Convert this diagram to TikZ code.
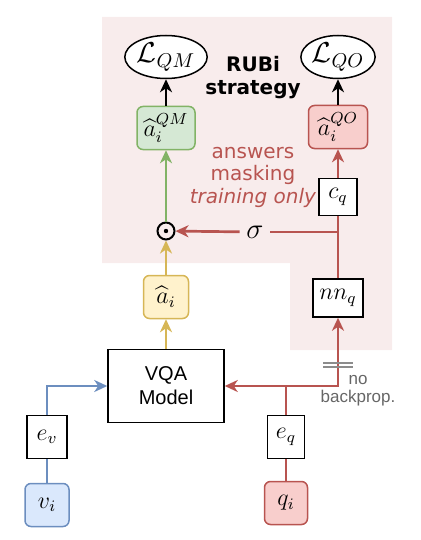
\documentclass[tikz,border=0pt]{standalone}
\usepackage{fontspec}
\usepackage{amsmath}
\usetikzlibrary{arrows.meta,shapes.geometric}

\newfontfamily\dejavu{DejaVu Sans}
\newfontfamily\arial{Liberation Sans}

\definecolor{rubipink}{HTML}{F8ECEC}
\definecolor{qred}{HTML}{B85450}
\definecolor{qredfill}{HTML}{F8CECC}
\definecolor{vblue}{HTML}{6C8EBF}
\definecolor{vbluefill}{HTML}{DAE8FC}
\definecolor{ayellow}{HTML}{D6B656}
\definecolor{ayellowfill}{HTML}{FFF2CC}
\definecolor{qmgreen}{HTML}{82B366}
\definecolor{qmgreenfill}{HTML}{D5E8D4}

\tikzset{
  plainbox/.style={draw=black, fill=white, line width=0.75pt, inner sep=0pt, minimum height=21.5pt, font=\large},
  roundbox/.style={draw=#1, fill=#1fill, line width=0.75pt, rounded corners=3pt, inner sep=0pt, minimum height=21.5pt, font=\large},
  lossnode/.style={ellipse, draw=black, fill=white, line width=0.75pt, inner sep=0pt, minimum width=36pt, minimum height=21.5pt, font=\Large},
  flow/.style={draw=#1, line width=1.35pt},
  flowtip/.style={-{Stealth[length=6.5pt,width=6pt,inset=2pt]}},
  flowtips/.style={{Stealth[length=6.5pt,width=6pt,inset=2pt]}-{Stealth[length=6.5pt,width=6pt,inset=2pt]}},
}

\begin{document}
\begin{tikzpicture}[x=0.5pt, y=-0.5pt]
                \useasboundingbox (0,0) rectangle (420,540);

                % Zone RUBi (fond rose)
                \fill[rubipink] (102,17) -- (392,17) -- (392,350) -- (290,350) -- (290,263) -- (102,263) -- cycle;

                % Points de jonction
                \coordinate (branch) at (338,232); % départ vers sigma
                \coordinate (split) at (286,386);  % sortie de e_q
                \coordinate (cut) at (338,365);    % pas de rétropropagation

                % Pertes
                \node[lossnode] (LQM) at (166,57) {$\mathcal{L}_{QM}$};
                \node[lossnode] (LQO) at (338,57) {$\mathcal{L}_{QO}$};

                % Textes
                \node[font=\dejavu\bfseries\fontsize{10}{11.5}\selectfont, align=center] (rubi) at (253,78) {RUBi\\strategy};
                \node[text=qred, font=\dejavu\fontsize{10}{11.25}\selectfont, align=center] (mask) at (253,177) {answers\\masking\\\textit{training only}};
                \node[text=black!60, font=\arial\fontsize{8.5}{9}\selectfont, align=center] (nobp) at (358,391) {no\\backprop.};

                % Sorties
                \node[roundbox=qmgreen, minimum width=29pt] (aQM) at (166,128) {$\widehat{a}_i^{QM}$};
                \node[roundbox=qred, minimum width=29.5pt] (aQO) at (338,127) {$\widehat{a}_i^{QO}$};
                \node[roundbox=ayellow, minimum width=22.5pt] (ahat) at (166,297) {$\widehat{a}_i$};

                % Branche question
                \node[plainbox, minimum width=19pt, minimum height=18.5pt] (cq) at (338,197) {$c_q$};
                \node[plainbox, minimum width=25pt, minimum height=19pt] (nnq) at (338,298) {$nn_q$};
                \node[font=\Large, inner sep=3.2pt] (sigma) at (255,232) {$\sigma$};
                \node[circle, draw, line width=1pt, minimum size=8.5pt, inner sep=0pt] (odot) at (166,231) {};
                \fill (odot.center) circle (1.1pt);

                % Modèle et entrées
                \node[plainbox, minimum width=58pt, minimum height=36.5pt, align=center, font=\arial\fontsize{10}{12}\selectfont] (vqa) at (166,386) {VQA\\Model};
                \node[plainbox, minimum width=20pt] (ev) at (47,437) {$e_v$};
                \node[roundbox=vblue, minimum width=22pt] (vi) at (47,505) {$v_i$};
                \node[plainbox, minimum width=18.5pt] (eq) at (286,437) {$e_q$};
                \node[roundbox=qred, minimum width=21.5pt] (qi) at (286,503) {$q_i$};

                % Connexions
                \draw[flow=black, flowtip] (aQM) -- (LQM);
                \draw[flow=black, flowtip] (aQO) -- (LQO);
                \draw[flow=qred, flowtip] (cq) -- (aQO);
                \draw[flow=qred] (nnq) -- (cq);
                \draw[flow=qred] (branch) -- (sigma);
                \draw[flow=qred, flowtip] (sigma) -- (odot);
                \draw[flow=qmgreen, flowtip] (odot) -- (aQM);
                \draw[flow=ayellow, flowtip] (ahat) -- (odot);
                \draw[flow=ayellow, flowtip] (vqa) -- (ahat);
                \draw[flow=vblue] (vi) -- (ev);
                \draw[flow=vblue, flowtip] (ev) |- (vqa);
                \draw[flow=qred] (qi) -- (eq);
                \draw[flow=qred] (eq) -- (split);
                \draw[flow=qred, flowtips, line join=miter] (vqa) -| (nnq);

                % Coupure du gradient
                \draw[black!45, line width=0.8pt] (cut) ++(-15,-2) -- ++(30,0) ++(-30,4) -- ++(30,0);
            \end{tikzpicture}
\end{document}
